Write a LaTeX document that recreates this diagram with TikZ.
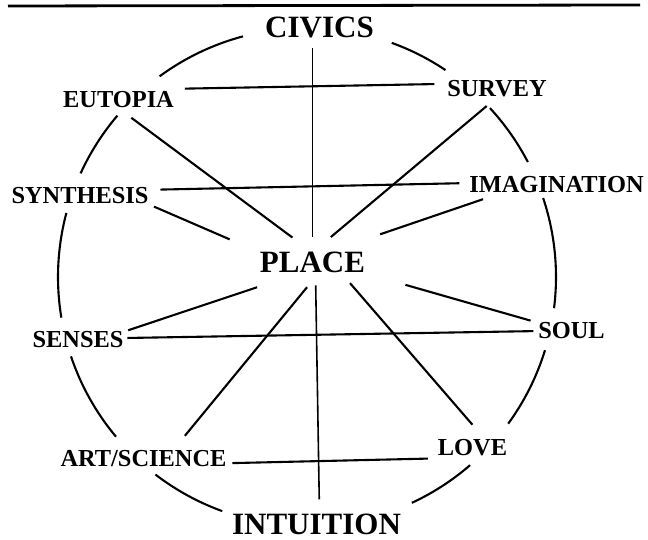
\documentclass[tikz,border=0pt]{standalone}
\usepackage{fontspec}
\setmainfont{Liberation Serif}
\begin{document}
\begin{tikzpicture}[x=1pt,y=1pt,
  lbl/.style={inner sep=0pt,outer sep=0pt,anchor=base,font=\bfseries\fontsize{24.4}{28}\selectfont},
  biglbl/.style={inner sep=0pt,outer sep=0pt,anchor=base,font=\bfseries\fontsize{31}{36}\selectfont},
  link/.style={line width=2.1pt},
  ring/.style={line width=2.1pt}]
\useasboundingbox (0,0) rectangle (648,540);
% top rule
\draw[line width=2.8pt] (8,534) -- (640,535);
% labels
\node[biglbl] (civics) at (319.5,502) {CIVICS};
\node[biglbl] (place) at (312.5,267) {PLACE};
\node[biglbl] (intuition) at (316.5,5) {INTUITION};
\node[lbl] (eutopia) at (118.5,432) {EUTOPIA};
\node[lbl] (survey) at (497,443) {SURVEY};
\node[lbl] (synthesis) at (80,336) {SYNTHESIS};
\node[lbl] (imagination) at (556.5,347) {IMAGINATION};
\node[lbl] (senses) at (78,192) {SENSES};
\node[lbl] (soul) at (571.5,201) {SOUL};
\node[lbl] (art) at (143.5,73) {ART/SCIENCE};
\node[lbl] (love) at (472.5,84) {LOVE};
% circle arcs
\coordinate (c) at (307,263);
\foreach \a/\b in {104.9/126.3, 70.1/56.2, 139.6/155.4, 165.1/189.4, 198.6/219.9,
                   232.5/250.1, 294.9/310.9, 323.9/342.9, -7.2/18.5, 27.5/42.7}
  \draw[ring] (c) ++(\a:249) arc[start angle=\a, end angle=\b, radius=249];
% connectors
\draw[line width=1.6pt,shorten <=10pt,shorten >=15pt] (civics.south -| place.north) -- (place.north);
\draw[line width=1.6pt,shorten <=12pt,shorten >=15pt] ([xshift=3pt]place.south) -- ([xshift=3pt]intuition.north);
\draw[link,shorten <=11pt,shorten >=13pt] ([yshift=3pt]eutopia.north east) -- ([yshift=-3pt]survey.north west);
\draw[link,shorten <=16pt,shorten >=25pt] (eutopia.south) -- (place.north);
\draw[link,shorten <=13.5pt,shorten >=24pt] (survey.south) -- (place.north);
\draw[link,shorten <=12pt,shorten >=10pt] ([yshift=-2pt]synthesis.north east) -- ([yshift=2pt]imagination.west);
\draw[link,shorten <=6pt,shorten >=33pt] (synthesis.south east) -- (place.north west);
\draw[link,shorten <=18.5pt,shorten >=16pt] ([xshift=-56pt]imagination.south) -- ([yshift=13pt]place.north east);
\draw[link,shorten <=4pt,shorten >=5pt] ([yshift=2pt]senses.east) -- (soul.west);
\draw[link,shorten <=5pt,shorten >=3pt] (senses.north east) -- ([yshift=-13pt]place.south west);
\draw[link,shorten <=8pt,shorten >=42pt] (soul.north west) -- (place.south east);
\draw[link,shorten <=19.5pt,shorten >=18pt] ([xshift=29pt]art.north) -- ([xshift=6pt]place.south);
\draw[link,shorten <=20pt,shorten >=13pt] ([xshift=13pt]love.north) -- ([xshift=29pt]place.south);
\draw[link,shorten <=6pt,shorten >=10pt] ([yshift=4pt]art.south east) -- ([yshift=-2pt]love.south west);
\end{tikzpicture}
\end{document}
